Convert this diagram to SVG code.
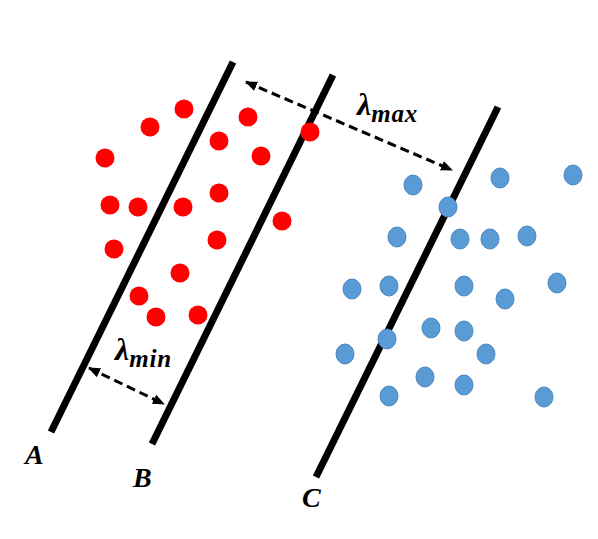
<svg xmlns="http://www.w3.org/2000/svg" width="598" height="539" viewBox="0 0 598 539">
<style>
.line{stroke:#000;stroke-width:7;fill:none}
.red{fill:#FF0000}
.blue{fill:#5B9BD5;stroke:#4A86BE;stroke-width:1}
.dash{stroke:#000;stroke-width:3;stroke-dasharray:9 5;fill:none}
.lab{font-family:"Liberation Serif",serif;font-style:italic;font-weight:bold;fill:#000}
</style>
<defs>
<marker id="ah" viewBox="0 0 12 10" refX="11" refY="5" markerWidth="12" markerHeight="10" markerUnits="userSpaceOnUse" orient="auto-start-reverse">
<path d="M0,0 L12,5 L0,10 Z" fill="#000"/>
</marker>
</defs>
<rect width="598" height="539" fill="#fff"/>
<g id="lines">
<g id="lineA"><line class="line" x1="233" y1="62" x2="51" y2="432"/></g>
<g id="lineB"><line class="line" x1="333" y1="75" x2="152" y2="444"/></g>
<g id="lineC"><line class="line" x1="498" y1="107" x2="316" y2="477"/></g>
</g>
<g id="red-points">
<circle class="red" cx="184" cy="109" r="9.5"/>
<circle class="red" cx="150" cy="127" r="9.5"/>
<circle class="red" cx="248" cy="117" r="9.5"/>
<circle class="red" cx="219" cy="141" r="9.5"/>
<circle class="red" cx="105" cy="158" r="9.5"/>
<circle class="red" cx="261" cy="156" r="9.5"/>
<circle class="red" cx="310" cy="132" r="9.5"/>
<circle class="red" cx="110" cy="205" r="9.5"/>
<circle class="red" cx="138" cy="207" r="9.5"/>
<circle class="red" cx="183" cy="207" r="9.5"/>
<circle class="red" cx="219" cy="193" r="9.5"/>
<circle class="red" cx="282" cy="221" r="9.5"/>
<circle class="red" cx="114" cy="249" r="9.5"/>
<circle class="red" cx="217" cy="240" r="9.5"/>
<circle class="red" cx="180" cy="273" r="9.5"/>
<circle class="red" cx="139" cy="296" r="9.5"/>
<circle class="red" cx="156" cy="317" r="9.5"/>
<circle class="red" cx="198" cy="315" r="9.5"/>
</g>
<g id="blue-points">
<ellipse class="blue" cx="413" cy="185" rx="9" ry="10"/>
<ellipse class="blue" cx="500" cy="178" rx="9" ry="10"/>
<ellipse class="blue" cx="573" cy="175" rx="9" ry="10"/>
<ellipse class="blue" cx="448" cy="207" rx="9" ry="10"/>
<ellipse class="blue" cx="397" cy="237" rx="9" ry="10"/>
<ellipse class="blue" cx="460" cy="239" rx="9" ry="10"/>
<ellipse class="blue" cx="490" cy="239" rx="9" ry="10"/>
<ellipse class="blue" cx="527" cy="236" rx="9" ry="10"/>
<ellipse class="blue" cx="352" cy="289" rx="9" ry="10"/>
<ellipse class="blue" cx="389" cy="286" rx="9" ry="10"/>
<ellipse class="blue" cx="464" cy="286" rx="9" ry="10"/>
<ellipse class="blue" cx="505" cy="299" rx="9" ry="10"/>
<ellipse class="blue" cx="557" cy="283" rx="9" ry="10"/>
<ellipse class="blue" cx="431" cy="328" rx="9" ry="10"/>
<ellipse class="blue" cx="464" cy="331" rx="9" ry="10"/>
<ellipse class="blue" cx="387" cy="339" rx="9" ry="10"/>
<ellipse class="blue" cx="345" cy="354" rx="9" ry="10"/>
<ellipse class="blue" cx="486" cy="354" rx="9" ry="10"/>
<ellipse class="blue" cx="425" cy="377" rx="9" ry="10"/>
<ellipse class="blue" cx="464" cy="385" rx="9" ry="10"/>
<ellipse class="blue" cx="389" cy="396" rx="9" ry="10"/>
<ellipse class="blue" cx="544" cy="397" rx="9" ry="10"/>
</g>
<g id="connectors">
<line class="dash" x1="246" y1="82" x2="452" y2="170" marker-start="url(#ah)" marker-end="url(#ah)"/>
<line class="dash" x1="89" y1="368" x2="164" y2="404" marker-start="url(#ah)" marker-end="url(#ah)"/>
</g>
<g id="labels">
<text class="lab" x="357" y="115" font-size="32">λ<tspan dy="7" font-size="25" textLength="46">max</tspan></text>
<text class="lab" x="115" y="360" font-size="32">λ<tspan dy="7" font-size="25" textLength="42">min</tspan></text>
<text class="lab" x="25" y="464" font-size="28">A</text>
<text class="lab" x="133" y="487" font-size="28">B</text>
<text class="lab" x="302" y="507" font-size="28">C</text>
</g>
</svg>
